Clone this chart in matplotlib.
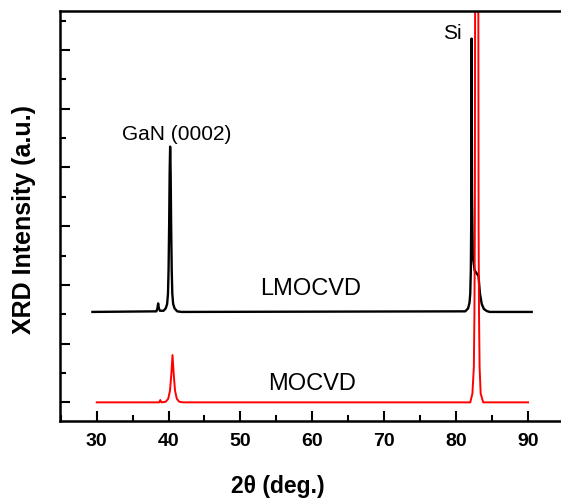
import matplotlib
matplotlib.use("Agg")
import matplotlib.pyplot as plt
from matplotlib.ticker import MultipleLocator

plt.rcParams['font.family'] = ['Liberation Sans', 'DejaVu Sans']

# LMOCVD scan (black)
lm_2theta = [29.4, 38.3, 38.45, 38.55, 38.65, 38.8, 39.3, 39.6, 39.8, 39.92, 40.0,
             40.08, 40.15, 40.22, 40.29, 40.36, 40.44, 40.52, 40.64, 40.84, 41.2, 41.8,
             81.3, 81.7, 81.9, 82.0, 82.08, 82.13, 82.18, 82.25, 82.35, 82.6,
             83.15, 83.35, 83.6, 83.9, 84.3, 84.7, 90.55]
lm_int = [3.08, 3.1, 3.2, 3.37, 3.2, 3.12, 3.12, 3.2, 3.35, 3.7, 4.5,
          6.0, 7.8, 8.71, 7.8, 6.0, 4.5, 3.7, 3.35, 3.2, 3.1, 3.08,
          3.1, 3.2, 3.4, 3.7, 4.5, 6.0, 12.39, 7.0, 5.0, 4.5,
          4.3, 3.7, 3.35, 3.18, 3.11, 3.08, 3.08]

# MOCVD scan (red)
mo_2theta = [30.0, 38.7, 38.85, 39.0, 39.6, 39.95, 40.2, 40.38, 40.55, 40.72, 40.9,
             41.15, 41.5, 42.0, 82.0, 82.3, 82.5, 82.58, 82.64, 82.68, 83.12, 83.16,
             83.22, 83.3, 83.45, 83.8, 90.05]
mo_int = [0.0, 0.0, 0.08, 0.0, 0.02, 0.12, 0.4, 0.95, 1.61, 0.95, 0.4,
          0.12, 0.02, 0.0, 0.0, 0.3, 1.2, 3.0, 6.0, 15.0, 15.0, 6.0,
          3.0, 1.2, 0.3, 0.0, 0.0]

fig = plt.figure(figsize=(5.61, 5.0), dpi=100)
ax = fig.add_axes([0.107, 0.158, 0.9105, 0.82])

ax.plot(lm_2theta, lm_int, '-', color='black', linewidth=1.7)
ax.plot(mo_2theta, mo_int, '-', color='red', linewidth=1.4)

ax.set_xlim(24.89, 96.0)
ax.set_ylim(-0.635, 13.33)

ax.xaxis.set_major_locator(MultipleLocator(10))
ax.xaxis.set_minor_locator(MultipleLocator(5))
ax.yaxis.set_major_locator(MultipleLocator(2))
ax.yaxis.set_minor_locator(MultipleLocator(1))
ax.tick_params(which='both', direction='in', width=1.5, top=False, right=False)
ax.tick_params(which='major', length=7)
ax.tick_params(which='minor', length=4)
ax.tick_params(axis='x', which='major', pad=9, labelsize=14)
ax.tick_params(axis='y', labelleft=False)
for lab in ax.get_xticklabels():
    lab.set_fontweight('bold')
for s in ax.spines.values():
    s.set_linewidth(1.8)

ax.text(41.14, 9.12, "GaN (0002)", fontsize=15, ha='center', va='center')
ax.text(79.46, 12.55, "Si", fontsize=15, ha='center', va='center')
ax.text(59.83, 3.86, "LMOCVD", fontsize=17, ha='center', va='center')
ax.text(60.04, 0.625, "MOCVD", fontsize=17, ha='center', va='center')

fig.text(277.5/561, 1 - 486/500, "2θ (deg.)", fontsize=16.5, fontweight='bold',
         ha='center', va='center')
fig.text(24/561, 1 - 219/500, "XRD Intensity (a.u.)", fontsize=18, fontweight='bold',
         rotation=90, ha='center', va='center')

fig.savefig("out.png", dpi=100)
